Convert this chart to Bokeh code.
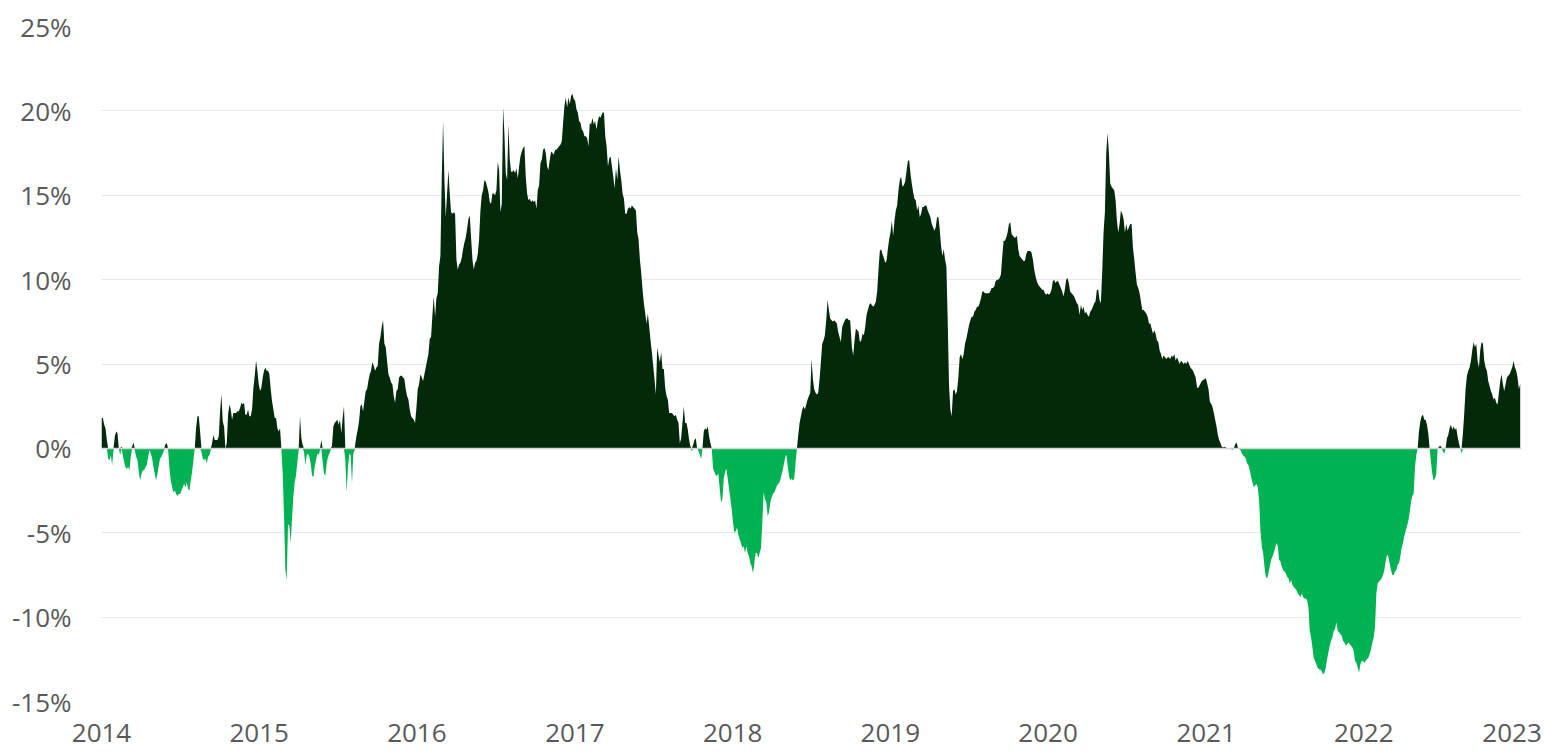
import numpy as np
import pandas as pd
from datetime import datetime
from bokeh.plotting import figure
from bokeh.models import (Range1d, FixedTicker, PrintfTickFormatter,
                          CustomJSTickFormatter, Span, ColumnDataSource)
from bokeh.embed import file_html
from bokeh.resources import INLINE

# ---------------- data (values in %) ----------------
# Each segment: evenly sampled observations between a start and an end date.
seg1_dates = ("2014-01-01", "2015-08-10")
seg1_vals = [
    1.8, 1.8, 1.4, 1.2, 0.5, -0.6, -0.7, -0.4, -1.0, -0.1,
    0.7, 1.0, 0.9, 0.0, -0.4, 0.1, -0.4, -0.8, -1.1, -1.2,
    -1.1, -1.3, -0.5, 0.1, 0.35, -0.1, -0.5, -0.7, -1.4, -1.9,
    -1.5, -1.3, -1.3, -1.1, -1.0, -0.5, -0.1, -0.3, -0.6, -1.1,
    -1.5, -1.9, -1.5, -1.0, -0.6, -0.5, -0.3, -0.1, 0.25, 0.3,
    -0.1, -1.2, -1.9, -2.3, -2.6, -2.5, -2.7, -2.8, -2.7, -2.7,
    -2.5, -2.3, -2.1, -2.3, -2.0, -2.4, -2.5, -1.9, -1.4, -0.7,
    0.0, 1.2, 1.9, 1.9, 1.0, -0.2, -0.6, -0.7, -0.6, -0.9,
    -0.5, -0.4, -0.1, 0.3, 0.8, 0.5, 0.5, 0.5, 0.7, 2.2,
    3.2, 1.6, 1.3, 0.0, 0.3, 2.0, 2.6, 2.3, 1.7, 2.1,
    2.1, 2.1, 2.2, 2.2, 2.4, 2.7, 2.6, 2.7, 2.0, 2.0,
    2.3, 1.9, 1.9, 2.3, 3.6, 4.3, 5.2, 4.6, 3.8, 3.4,
    3.6, 4.2, 4.6, 4.8, 4.6, 4.6, 4.4, 3.5, 2.8, 2.3,
    1.8, 1.8, 1.2, 1.0, 1.2, 0.0, -1.5, -4.0, -7.2, -7.8,
    -4.5, -4.6, -5.6, -4.2, -2.8, -2.0, -1.6, -0.8, -0.1, 1.9,
    0.6, 0.2, -0.2, -1.0, -0.4, -0.3, -0.5, -0.9, -1.6, -1.7,
    -1.1, -0.7, -0.3, -0.4, -0.1, 0.5, -0.8, -1.5, -1.6, -0.9,
    -0.5, -0.3, -0.1, 0.15, 1.3, 1.5, 1.6, 1.7, 1.4, 1.7,
    0.9, 1.8, 2.5, -0.7, -2.6, -1.1, -0.3, -0.4, -2.1, -0.3,
    -0.1,
]

seg2_dates = ("2015-08-14", "2017-03-01")
seg2_vals = [
    0.7, 1.1, 1.6, 2.5, 2.6, 2.2, 2.8, 3.4, 3.5, 4.0,
    4.4, 4.6, 5.1, 4.9, 4.6, 4.8, 4.9, 6.2, 6.6, 7.2,
    7.6, 6.2, 6.0, 5.2, 4.4, 4.2, 3.9, 3.8, 3.1, 2.7,
    3.4, 3.5, 4.2, 4.3, 4.3, 4.2, 4.1, 3.5, 3.1, 2.9,
    2.3, 1.9, 1.8, 1.7, 1.5, 2.4, 3.5, 3.8, 4.4, 4.2,
    4.0, 4.4, 4.8, 5.2, 5.6, 6.5, 6.6, 7.9, 9.0, 7.8,
    8.9, 9.2, 10.8, 11.4, 16.0, 19.4, 15.9, 13.7, 15.1, 16.5,
    15.1, 14.0, 13.9, 14.0, 13.9, 11.2, 10.6, 10.9, 11.0, 11.3,
    11.8, 12.2, 12.5, 13.0, 13.6, 13.8, 12.5, 11.2, 10.6, 11.0,
    11.1, 11.5, 12.4, 14.1, 15.0, 15.3, 15.9, 15.8, 15.5, 15.2,
    14.6, 14.5, 15.1, 15.1, 15.0, 15.3, 17.0, 16.5, 14.0, 14.5,
    20.2, 18.6, 16.3, 15.9, 19.2, 17.1, 16.4, 16.4, 16.5, 16.3,
    16.6, 16.0, 16.7, 17.3, 17.6, 17.8, 17.9, 16.1, 15.1, 14.7,
    14.8, 14.6, 14.7, 14.6, 14.7, 14.2, 15.3, 15.6, 16.9, 17.1,
    17.7, 17.8, 17.5, 16.7, 16.5, 17.1, 17.6, 17.5, 17.4, 17.7,
    17.7, 17.8, 17.9, 18.0, 18.2, 19.3, 20.3, 20.8, 20.2, 20.8,
    20.4, 20.9, 21.0, 20.7, 20.6, 20.1, 19.9, 19.4, 19.3, 18.9,
    18.8, 18.5, 18.5, 18.4, 17.9, 19.3, 19.2, 19.6, 19.2, 19.4,
    18.9, 19.4, 19.7, 19.6,
]

seg3_dates = ("2017-03-06", "2018-09-30")
seg3_vals = [
    19.9, 19.9, 18.5, 17.9, 16.7, 17.2, 17.3, 16.7, 16.1, 15.4,
    16.6, 15.9, 17.3, 16.5, 15.9, 15.1, 14.8, 13.9, 13.9, 14.2,
    14.3, 14.2, 14.4, 14.3, 14.2, 14.1, 12.8, 12.4, 11.2, 10.4,
    9.4, 8.6, 8.0, 7.4, 8.0, 7.2, 6.4, 5.7, 4.9, 4.1,
    3.2, 6.0, 5.5, 5.1, 5.7, 4.7, 4.7, 3.6, 3.1, 2.9,
    2.1, 2.1, 2.1, 2.0, 1.9, 2.0, 1.7, 1.5, 0.3, 0.6,
    1.5, 2.5, 1.5, 1.5, 1.1, 0.5, 0.1, -0.15, 0.2, 0.5,
    0.6, 0.0, -0.15, -0.35, -0.65, 0.0, 1.0, 1.2, 1.1, 1.3,
    0.7, 0.3, 0.0, -1.2, -1.4, -1.6, -1.6, -1.5, -2.4, -3.2,
    -3.0, -1.8, -1.4, -1.2, -1.8, -2.4, -3.0, -3.6, -4.4, -5.0,
    -4.9, -4.7, -5.1, -5.4, -5.6, -5.9, -5.8, -6.2, -5.8, -6.2,
    -6.4, -6.8, -7.0, -7.4, -6.8, -6.2, -6.2, -6.5, -6.2, -5.9,
    -4.4, -2.6, -3.0, -3.2, -4.0, -3.8, -3.2, -2.9, -2.7, -2.6,
    -2.4, -2.2, -2.1, -2.0, -1.7, -1.4, -1.0, -0.6, -0.35, -1.0,
    -1.6, -1.9, -1.8, -1.9, -1.8, -0.85, 0.0, 0.8, 1.5, 1.9,
    2.3, 2.5, 2.3, 2.6, 2.9, 3.1, 3.3, 5.3, 4.1, 3.5,
    3.3, 3.2, 3.3, 4.1, 5.1, 6.2, 6.4, 6.7, 7.6, 8.8,
    8.2, 7.7, 7.6, 7.5, 7.6, 7.5, 7.4, 6.9, 6.6, 6.3,
    7.2, 7.4, 7.6, 7.7, 7.7, 7.6, 7.6,
]

seg4_dates = ("2018-10-04", "2020-01-06")
seg4_vals = [
    6.0, 5.5, 6.4, 7.1, 7.0, 6.9, 6.3, 6.4, 6.8, 6.7,
    7.2, 7.9, 8.2, 8.5, 8.6, 8.5, 8.4, 8.5, 8.7, 9.3,
    10.6, 11.7, 11.8, 11.5, 11.3, 11.0, 11.1, 11.8, 12.4, 12.8,
    13.5, 12.6, 13.5, 14.1, 14.4, 15.3, 15.9, 16.1, 15.5, 15.6,
    15.8, 16.4, 17.0, 17.1, 16.3, 15.7, 15.2, 14.8, 14.7, 14.1,
    14.4, 13.7, 13.9, 14.3, 14.3, 14.4, 14.4, 14.1, 13.9, 13.7,
    13.3, 13.1, 12.9, 13.1, 13.7, 13.7, 13.0, 12.0, 11.4, 11.8,
    11.2, 10.8, 7.6, 3.7, 2.3, 1.9, 3.4, 3.5, 3.2, 3.4,
    4.2, 5.4, 5.6, 5.3, 5.6, 6.2, 6.5, 6.9, 7.3, 7.6,
    7.8, 7.8, 8.1, 8.2, 8.4, 8.4, 8.6, 8.9, 9.3, 9.3,
    9.2, 9.2, 9.2, 9.2, 9.3, 9.5, 9.5, 9.6, 9.9, 10.0,
    10.0, 10.1, 10.3, 11.4, 12.3, 12.3, 12.5, 12.8, 13.3, 13.4,
    12.7, 12.6, 12.5, 12.5, 12.6, 11.8, 11.4, 11.3, 11.2, 11.1,
    11.1, 11.5, 11.7, 11.7, 11.7, 11.6, 11.2, 10.6, 10.2, 9.9,
    9.7, 9.6, 9.5, 9.4, 9.4, 9.2, 9.1, 9.2, 9.1, 9.2,
]

seg5_dates = ("2020-01-09", "2020-12-14")
seg5_vals = [
    9.4, 9.9, 10.0, 9.8, 9.9, 9.9, 9.7, 9.5, 9.3, 9.0,
    9.4, 10.0, 10.1, 9.8, 9.3, 9.2, 9.1, 9.0, 8.8, 8.6,
    8.5, 7.9, 8.5, 8.2, 8.4, 8.0, 8.1, 7.9, 7.8, 8.1,
    8.2, 8.4, 8.6, 8.7, 9.4, 9.4, 8.8, 8.6, 10.5, 12.8,
    14.0, 17.5, 18.7, 17.5, 15.7, 15.5, 15.4, 15.3, 14.7, 13.5,
    12.8, 13.3, 14.1, 13.9, 13.6, 12.8, 13.3, 12.9, 13.1, 13.3,
    13.3, 11.9, 11.2, 10.4, 9.7, 9.5, 9.2, 8.7, 8.2, 8.2,
    8.1, 8.0, 7.8, 7.4, 7.4, 7.1, 6.8, 7.0, 6.8, 6.4,
    6.3, 5.8, 5.6, 5.3, 5.5, 5.4, 5.3, 5.4, 5.4, 5.3,
    5.5, 5.4, 5.6, 5.2, 5.4, 5.2, 5.0, 5.2, 5.1, 5.0,
    5.1, 5.0, 5.2, 5.0, 4.8, 4.7, 4.6, 4.4, 4.2, 3.6,
    3.6,
]

seg6_dates = ("2020-12-19", "2022-12-29")
seg6_vals = [
    3.85, 4.0, 4.05, 4.1, 4.15, 3.85, 3.5, 2.75, 2.65, 2.45,
    2.1, 1.7, 1.3, 0.8, 0.5, 0.3, 0.1, 0.05, 0.1, 0.05,
    0.0, 0.0, 0.0, -0.05, -0.1, 0.0, 0.25, 0.35, 0.05, 0.0,
    -0.1, -0.3, -0.4, -0.5, -0.6, -0.9, -1.0, -1.3, -1.7, -2.0,
    -2.3, -2.2, -2.1, -2.3, -3.1, -4.9, -5.8, -6.2, -7.0, -7.6,
    -7.7, -7.4, -7.0, -6.6, -6.4, -6.2, -5.9, -5.6, -5.8, -6.6,
    -6.7, -7.0, -7.2, -7.3, -7.4, -7.6, -7.7, -8.0, -7.8, -8.1,
    -8.2, -8.3, -8.4, -8.6, -8.7, -8.8, -8.6, -8.8, -8.9, -8.9,
    -9.0, -9.4, -10.8, -11.2, -11.8, -12.4, -12.6, -12.8, -13.0, -13.1,
    -13.1, -13.2, -13.4, -13.3, -13.0, -12.5, -12.1, -11.7, -11.4, -11.2,
    -10.8, -10.7, -10.3, -10.8, -10.9, -11.0, -11.1, -11.4, -11.5, -11.7,
    -11.6, -11.5, -11.6, -11.7, -11.8, -12.0, -12.6, -12.7, -13.0, -13.3,
    -12.8, -12.6, -12.6, -12.7, -12.6, -12.5, -12.4, -12.2, -11.9, -11.5,
    -11.2, -10.6, -8.6, -8.0, -7.9, -7.8, -7.7, -7.5, -7.2, -6.7,
    -6.3, -6.4, -6.8, -7.2, -7.5, -7.5, -7.3, -7.2, -6.9, -6.8,
    -6.4, -5.9, -5.6, -5.2, -4.9, -4.6, -4.3, -3.8, -3.2, -2.8,
    -2.7, -1.1, -0.4, 0.0, 1.0, 1.6, 1.9, 2.0, 1.7, 1.7,
    1.4, 0.9, 0.0, -0.8, -1.5, -1.9, -1.8, -1.5, 0.0, 0.1,
    0.15, 0.05, -0.2, -0.3, 0.0, 0.6, 0.8, 1.2, 1.4, 1.1,
    1.3, 1.1, 1.2, 0.7, 0.3, 0.0, -0.3, 0.9, 2.1, 3.5,
    4.3, 4.6, 4.8, 5.2, 5.8, 6.3, 6.0, 6.2, 5.2, 4.8,
    5.8, 6.3, 6.2, 5.2, 4.8, 4.6, 4.0, 3.7, 3.4, 3.2,
    2.9, 3.0, 2.7, 2.6, 3.3, 4.0, 4.4, 3.8, 3.4, 3.8,
    4.2, 4.3, 4.4, 4.6, 4.8, 5.2, 4.8, 4.6, 4.2, 3.5,
    3.85,
]

year_ticks = [2014, 2015, 2016, 2017, 2018, 2019, 2020, 2021, 2022, 2023]
pct_ticks = [-15, -10, -5, 0, 5, 10, 15, 20, 25]

# ---------------- assemble series ----------------
segments = [(seg1_dates, seg1_vals), (seg2_dates, seg2_vals), (seg3_dates, seg3_vals),
            (seg4_dates, seg4_vals), (seg5_dates, seg5_vals), (seg6_dates, seg6_vals)]
dates = []
vals = []
for (d0, d1), v in segments:
    dates.extend(pd.date_range(d0, d1, periods=len(v)))
    vals.extend(v)
vals = np.array(vals, dtype=float)
src = ColumnDataSource(dict(
    date=pd.DatetimeIndex(dates),
    zero=np.zeros(len(vals)),
    pos=np.clip(vals, 0, None),
    neg=np.clip(vals, None, 0),
))

DARK = "#03290b"
BRIGHT = "#00b251"
LABEL = "#595959"

p = figure(width=1548, height=752, x_axis_type="datetime",
           x_range=Range1d(datetime(year_ticks[0], 1, 1), datetime(year_ticks[-1], 1, 1)),
           y_range=Range1d(pct_ticks[0], pct_ticks[-1]),
           output_backend="svg", toolbar_location=None,
           min_border_left=101, min_border_right=27, min_border_top=26, min_border_bottom=50)
p.outline_line_color = None
p.background_fill_color = "white"
p.border_fill_color = "white"

p.varea(x="date", y1="zero", y2="pos", source=src, fill_color=DARK)
p.varea(x="date", y1="neg", y2="zero", source=src, fill_color=BRIGHT)

p.add_layout(Span(location=0, dimension="width", line_color="#d4d4d4", line_width=1.5))

# axes
xt = [pd.Timestamp(f"{y}-01-01").value // 10**6 for y in year_ticks]
p.xaxis.ticker = FixedTicker(ticks=xt)
p.xaxis.formatter = CustomJSTickFormatter(code="""
const y = String(new Date(tick).getUTCFullYear());
return (index == ticks.length - 1) ? y + '\\u00a0' : y;
""")
p.yaxis.ticker = FixedTicker(ticks=pct_ticks)
p.yaxis.formatter = PrintfTickFormatter(format="%d%%")

for ax in (p.xaxis, p.yaxis):
    ax.axis_line_color = None
    ax.major_tick_line_color = None
    ax.minor_tick_line_color = None
    ax.major_label_text_font = "Open Sans"
    ax.major_label_text_font_size = "26px"
    ax.major_label_text_color = LABEL
p.yaxis.major_label_standoff = 24
p.xaxis.major_label_standoff = 6

p.xgrid.visible = False
p.ygrid.ticker = FixedTicker(ticks=pct_ticks)
p.ygrid.grid_line_color = "#e9e9e9"
p.ygrid.grid_line_width = 1

open("out.html", "w").write(file_html(p, INLINE))
